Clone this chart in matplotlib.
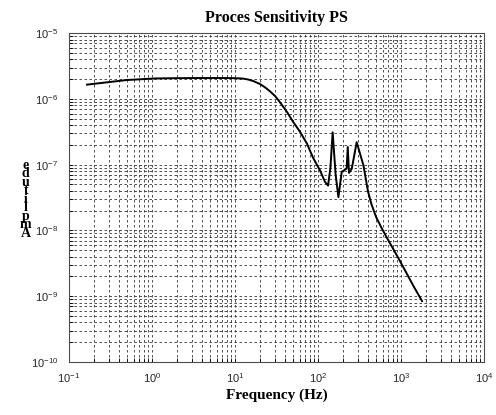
import numpy as np
import matplotlib
matplotlib.use('Agg')
import matplotlib.pyplot as plt
from matplotlib.ticker import LogLocator, NullFormatter, FixedLocator

plt.rcParams['font.family'] = 'Liberation Sans'

# Process sensitivity (Hz, amplitude)
freq = [0.165, 0.31, 0.5, 1.1, 2.0, 4.0, 7.0, 10.0, 12.5, 14.5, 16.8, 19.9, 23.0, 26.5, 30.5, 34.8,
        42.4, 50.0, 60.7, 73.6, 87.0, 106.0, 121.0, 132.0, 141.0, 150.0, 163.0, 176.0,
        193.0, 221.0, 228.0, 236.0, 255.0, 292.0, 352.0, 400.0, 440.0, 500.0, 580.0,
        680.0, 800.0, 960.0, 1150.0, 1400.0, 1790.0]
amp = [1.65e-6, 1.81e-6, 1.94e-6, 2.05e-6, 2.07e-6, 2.08e-6, 2.08e-6, 2.07e-6, 2.04e-6, 1.97e-6, 1.86e-6, 1.69e-6, 1.5e-6, 1.3e-6, 1.1e-6, 8.9e-7,
       6.3e-7, 4.5e-7, 3.16e-7, 2.09e-7, 1.28e-7, 8.1e-8, 5.5e-8, 4.8e-8, 9.0e-8, 3.1e-7, 7.0e-8, 3.2e-8,
       7.8e-8, 8.7e-8, 1.86e-7, 7.5e-8, 8.7e-8, 2.2e-7, 9.8e-8, 3.9e-8, 2.5e-8, 1.6e-8, 1.1e-8,
       7.6e-9, 5.3e-9, 3.5e-9, 2.3e-9, 1.45e-9, 8.4e-10]

xticks = [1e-1, 1e0, 1e1, 1e2, 1e3, 1e4]
yticks = [1e-10, 1e-9, 1e-8, 1e-7, 1e-6, 1e-5]

title = 'Proces Sensitivity PS'
xlabel = 'Frequency (Hz)'
ylabel = 'Amplitude'

fig = plt.figure(figsize=(4.96, 4.15), dpi=100)
ax = fig.add_axes([0.139, 0.128, 0.837, 0.792])

ax.loglog(freq, amp, color='black', lw=1.4)
ax.set_xlim(xticks[0], xticks[-1])
ax.set_ylim(yticks[0], yticks[-1])

ax.xaxis.set_major_locator(FixedLocator(xticks))
ax.yaxis.set_major_locator(FixedLocator(yticks))
ax.xaxis.set_minor_locator(LogLocator(base=10, subs=np.arange(2, 10), numticks=100))
ax.yaxis.set_minor_locator(LogLocator(base=10, subs=np.arange(2, 10), numticks=100))
ax.xaxis.set_minor_formatter(NullFormatter())
ax.yaxis.set_minor_formatter(NullFormatter())

ax.grid(True, which='both', color='0.2', lw=0.6, linestyle=(0, (3, 3)))
ax.tick_params(axis='both', which='both', direction='in', labelsize=8, length=3, width=0.6,
               labelcolor='0.15')
ax.tick_params(axis='x', pad=7)
ax.tick_params(axis='y', pad=8)
for side in ax.spines.values():
    side.set_linewidth(0.8)
    side.set_color('0.3')

ax.set_title(title, family='Liberation Serif', fontweight='bold', fontsize=11.5, pad=8)
ax.set_xlabel(xlabel, family='Liberation Serif', fontweight='bold', fontsize=11, labelpad=2)

# stacked upright letters, as in the reference
fig.text(0.052, 0.52, '\n'.join(reversed(ylabel)), family='Liberation Serif', fontweight='bold',
         fontsize=10, ha='center', va='center', linespacing=0.55)

fig.savefig('out.png', dpi=100)
